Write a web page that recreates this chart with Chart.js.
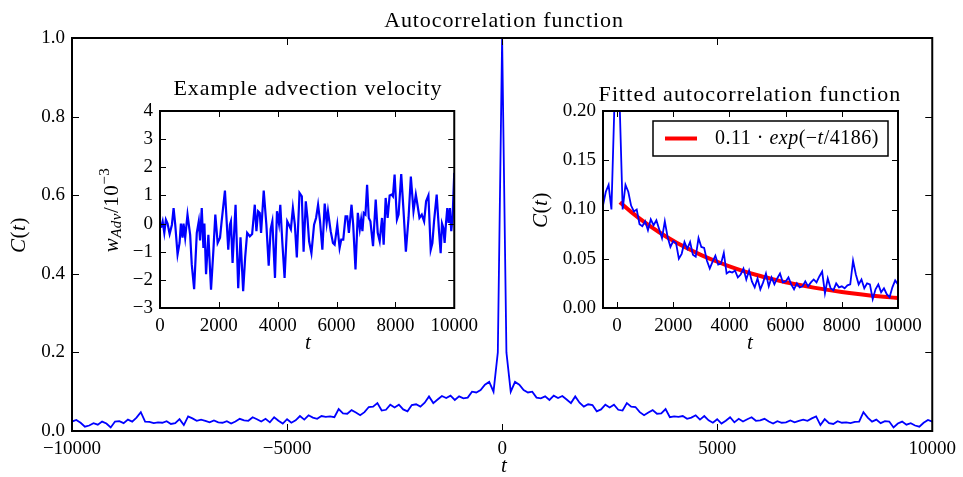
<!DOCTYPE html>
<html>
<head>
<meta charset="utf-8">
<script src="https://cdn.jsdelivr.net/npm/chart.js@4.4.0/dist/chart.umd.min.js"></script>
<style>
body { margin: 0; background: #fff; }
#wrap { position: relative; width: 963px; height: 477px; }
canvas { position: absolute; }
</style>
</head>
<body>
<div id="wrap">
<canvas id="mainChart" width="963" height="477" style="left:0px;top:0px"></canvas>
<canvas id="velChart" width="390" height="290" style="left:95px;top:70px"></canvas>
<canvas id="fitChart" width="420" height="290" style="left:520px;top:70px"></canvas>
</div>
<script>
// autocorrelation C(t) for t = 0, 100, 200 ... 10000 (curve is symmetric)
const lagStep = 100;
const acValues = [
  1.0, 0.20, 0.10, 0.125, 0.118, 0.104, 0.098, 0.100, 0.085, 0.083,
  0.088, 0.079, 0.090, 0.084, 0.089, 0.080, 0.071, 0.088, 0.072, 0.062,
  0.068, 0.066, 0.050, 0.055, 0.067, 0.060, 0.067, 0.054, 0.052, 0.071,
  0.062, 0.061, 0.048, 0.040, 0.047, 0.053, 0.044, 0.045, 0.056, 0.035,
  0.037, 0.036, 0.038, 0.031, 0.034, 0.040, 0.029, 0.038, 0.027, 0.021,
  0.030, 0.019, 0.026, 0.035, 0.022, 0.031, 0.024, 0.030, 0.035, 0.026,
  0.027, 0.031, 0.024, 0.019, 0.025, 0.021, 0.022, 0.027, 0.022, 0.026,
  0.029, 0.026, 0.032, 0.037, 0.015, 0.030, 0.020, 0.018, 0.025, 0.021,
  0.022, 0.020, 0.023, 0.024, 0.048, 0.034, 0.024, 0.029, 0.020, 0.025,
  0.024, 0.009, 0.019, 0.024, 0.016, 0.020, 0.014, 0.011, 0.021, 0.028,
  0.024
];

// example advection velocity (units of 1e-3)
const velT = [
  34, 90, 146, 200, 257, 327, 405, 462, 518, 597, 665, 710, 766, 800, 856, 935,
  1025, 1080, 1160, 1250, 1318, 1362, 1419, 1475, 1509, 1565, 1644, 1734, 1813, 1880, 1959,
  2040, 2095, 2207, 2320, 2376, 2410, 2466, 2568, 2658, 2736, 2826, 2894, 2962,
  3052, 3131, 3221, 3277, 3334, 3390, 3435, 3525, 3615, 3694, 3761, 3818, 3908, 3975,
  4043, 4088, 4155, 4234, 4324, 4380, 4448, 4516, 4583, 4650, 4741, 4820, 4880, 4955,
  5011, 5067, 5146, 5236, 5304, 5372, 5439, 5518, 5597, 5664, 5709, 5800, 5878, 5935,
  6025, 6104, 6160, 6228, 6306, 6363, 6419, 6509, 6565, 6644, 6723, 6790, 6835, 6880, 6925, 6982,
  7038, 7095, 7151, 7240, 7331, 7399, 7466, 7545, 7601, 7669, 7736, 7804, 7871, 7916, 7973,
  8052, 8108, 8198, 8277, 8356, 8446, 8525, 8615, 8694, 8750, 8818, 8897, 8976,
  9043, 9122, 9200, 9257, 9313, 9403, 9482, 9538, 9583, 9628, 9673, 9718, 9763, 9808, 9853, 9898, 9943, 10000
];
const velW = [
  -0.15, 0.08, -0.33, 0.14, 0.0, -0.37, -0.04, 0.55, -0.04, -1.1, -0.69, 0.0, -0.5, 0.0, -0.5, 0.32,
  -0.4, -1.46, -2.33, -0.33, 0.08, -0.6, 0.55, -0.87, 0.0, -1.8, -0.4, -2.35, -0.98, 0.32, -0.69,
  -0.5, 0.08, 1.17, -0.93, -0.04, 0.08, -1.4, 0.67, -2.3, -0.49, -2.4, -1.2, -0.33,
  -0.45, -0.37, 0.67, -0.27, 0.44, 0.38, -0.33, 1.17, -0.04, -1.5, -0.2, 0.08, -1.93, 0.44,
  0.0, 0.67, -0.63, -1.93, 0.08, -0.04, -0.2, 0.55, -0.04, -1.2, 1.09, 0.97, -1.0, 0.79,
  0.2, -0.63, -1.05, -0.04, 0.2, 0.67, 0.08, -0.93, 0.71, 0.02, 0.44, -0.27, -0.69, -0.75,
  -0.04, -0.87, -0.57, -0.57, 0.26, 0.26, -0.33, 0.67, -0.04, -1.63, 0.38, -0.2, 0.14, -0.27, 0.38, 0.32,
  1.38, 0.2, 0.08, -0.8, 0.85, -0.33, -0.63, 0.2, -0.75, 0.91, 0.2, 1.0, 1.03, 0.97, 1.74,
  0.14, 0.32, 1.76, 0.44, -1.0, 0.2, 1.67, 0.44, 1.03, 0.67, 0.2, 0.32, 0.08,
  0.79, 1.0, -0.93, -0.69, 0.08, 1.03, -0.27, -1.05, 0.0, -0.15, -0.69, 0.0, 0.55, 0.02, 0.55, -0.27, 0.2, 1.8
];

// fitted curve
const fitLabel = "0.11 \u00b7 exp(\u2212t/4186)";
const fitT = [100, 500, 1000, 1500, 2000, 2500, 3000, 3500, 4000, 4500, 5000,
  5500, 6000, 6500, 7000, 7500, 8000, 8500, 9000, 9500, 10000];
const fitC = [0.1074, 0.0976, 0.0866, 0.0769, 0.0682, 0.0606, 0.0537, 0.0477, 0.0423, 0.0375, 0.0333,
  0.0296, 0.0262, 0.0233, 0.0207, 0.0184, 0.0163, 0.0144, 0.0128, 0.0114, 0.0101];

const mainXTicks = [-10000, -5000, 0, 5000, 10000];
const mainYTicks = [0, 0.2, 0.4, 0.6, 0.8, 1.0];
const velXTicks = [0, 2000, 4000, 6000, 8000, 10000];
const velYTicks = [-3, -2, -1, 0, 1, 2, 3, 4];
const fitXTicks = [0, 2000, 4000, 6000, 8000, 10000];
const fitYTicks = [0, 0.05, 0.10, 0.15, 0.20];

const FONT = "'Liberation Serif', 'DejaVu Serif', serif";
Chart.defaults.font.family = FONT;
Chart.defaults.font.size = 19;
Chart.defaults.color = "#000";
Chart.defaults.animation = false;

const minus = s => String(s).replace("-", "\u2212");

let acPoints = [];
for (let i = acValues.length - 1; i > 0; i--) acPoints.push({ x: -i * lagStep, y: acValues[i] });
acValues.forEach((v, i) => acPoints.push({ x: i * lagStep, y: v }));
const velPoints = velT.map((t, i) => ({ x: t, y: velW[i] }));
const fitPoints = fitT.map((t, i) => ({ x: t, y: fitC[i] }));

function drawRich(ctx, parts, x, y, size, align, angle, ls) {
  ctx.save();
  ctx.translate(x, y);
  if (angle) ctx.rotate(angle);
  ctx.textBaseline = "middle";
  ctx.textAlign = "left";
  ctx.fillStyle = "#000";
  if (ls) ctx.letterSpacing = ls + "px";
  const fontFor = p => (p.i ? "italic " : "") + Math.round(size * (p.s || 1)) + "px " + FONT;
  let w = 0;
  parts.forEach(p => { ctx.font = fontFor(p); w += ctx.measureText(p.t).width; });
  let cx = align === "center" ? -w / 2 : 0;
  parts.forEach(p => {
    ctx.font = fontFor(p);
    ctx.fillText(p.t, cx, p.dy || 0);
    cx += ctx.measureText(p.t).width;
  });
  ctx.restore();
}

// frame, inward ticks on all sides, titles and labels
function framePlugin(cfg) {
  return {
    id: "frame" + cfg.name,
    afterDraw(chart) {
      const ctx = chart.ctx, a = chart.chartArea;
      const x = chart.scales.x, y = chart.scales.y;
      const tl = cfg.tick;
      ctx.save();
      ctx.strokeStyle = "#000";
      ctx.lineWidth = 1;
      ctx.beginPath();
      cfg.xTicks.forEach(v => {
        const px = Math.round(x.getPixelForValue(v)) + 0.5;
        if (px <= a.left + 1 || px >= a.right - 1) return;
        ctx.moveTo(px, a.bottom); ctx.lineTo(px, a.bottom - tl);
        ctx.moveTo(px, a.top); ctx.lineTo(px, a.top + tl);
      });
      cfg.yTicks.forEach(v => {
        const py = Math.round(y.getPixelForValue(v)) + 0.5;
        if (py <= a.top + 1 || py >= a.bottom - 1) return;
        ctx.moveTo(a.left, py); ctx.lineTo(a.left + tl, py);
        ctx.moveTo(a.right, py); ctx.lineTo(a.right - tl, py);
      });
      ctx.stroke();
      ctx.lineWidth = 2;
      ctx.strokeRect(a.left, a.top, a.right - a.left, a.bottom - a.top);
      cfg.texts.forEach(t => drawRich(ctx, t.parts, t.x - cfg.box.left, t.y - cfg.box.top,
        t.size, t.align || "center", t.angle, t.ls));
      if (cfg.legend) {
        const L = cfg.legend, ox = cfg.box.left, oy = cfg.box.top;
        ctx.fillStyle = "#fff";
        ctx.fillRect(L.x - ox, L.y - oy, L.w, L.h);
        ctx.lineWidth = 1.5;
        ctx.strokeRect(L.x - ox, L.y - oy, L.w, L.h);
        ctx.strokeStyle = "#ff0000";
        ctx.lineWidth = 4;
        ctx.beginPath();
        ctx.moveTo(L.x - ox + 12, L.y - oy + L.h / 2);
        ctx.lineTo(L.x - ox + 44, L.y - oy + L.h / 2);
        ctx.stroke();
        drawRich(ctx, L.parts, L.x - ox + 62, L.y - oy + L.h / 2, 20, "left", 0, 0.5);
      }
      ctx.restore();
    }
  };
}

function makeChart(id, cfg) {
  const box = cfg.box, plot = cfg.plot;
  return new Chart(id, {
    type: "line",
    data: { datasets: cfg.datasets },
    options: {
      responsive: false,
      animation: false,
      layout: { padding: { top: plot.top - box.top, right: box.left + box.width - plot.right, left: 0, bottom: 0 } },
      plugins: { legend: { display: false }, tooltip: { enabled: false } },
      elements: { point: { radius: 0 } },
      scales: {
        x: {
          type: "linear", min: cfg.xr[0], max: cfg.xr[1],
          grid: { display: false, drawTicks: false }, border: { display: false },
          afterBuildTicks: s => { s.ticks = cfg.xTicks.map(v => ({ value: v })); },
          afterFit: s => { s.height = box.top + box.height - plot.bottom; },
          ticks: { padding: 7, maxRotation: 0, autoSkip: false, callback: v => minus(cfg.xFmt(v)) }
        },
        y: {
          type: "linear", min: cfg.yr[0], max: cfg.yr[1],
          grid: { display: false, drawTicks: false }, border: { display: false },
          afterBuildTicks: s => { s.ticks = cfg.yTicks.map(v => ({ value: v })); },
          afterFit: s => { s.width = plot.left - box.left; },
          ticks: { padding: 7, autoSkip: false, callback: v => minus(cfg.yFmt(v)) }
        }
      }
    },
    plugins: [framePlugin(cfg)]
  });
}

const C_t = [{ t: "C", i: true }, { t: "(" }, { t: "t", i: true }, { t: ")" }];

makeChart("mainChart", {
  name: "main",
  box: { left: 0, top: 0, width: 963, height: 477 },
  plot: { left: 72, top: 38, right: 937, bottom: 431 },
  xr: [-10000, 10000], yr: [0, 1],
  xTicks: mainXTicks, yTicks: mainYTicks,
  xFmt: v => String(v), yFmt: v => v.toFixed(1),
  tick: 7,
  datasets: [{ data: acPoints, borderColor: "#0000ff", borderWidth: 1.8, tension: 0 }],
  texts: [
    { parts: [{ t: "Autocorrelation function" }], x: 504, y: 21, size: 22, ls: 0.9 },
    { parts: [{ t: "t", i: true }], x: 504, y: 466, size: 21 },
    { parts: C_t, x: 19, y: 235, size: 21, angle: -Math.PI / 2, ls: 0.5 }
  ]
});

makeChart("velChart", {
  name: "vel",
  box: { left: 95, top: 70, width: 390, height: 290 },
  plot: { left: 160, top: 111, right: 456, bottom: 308 },
  xr: [0, 10000], yr: [-3, 4],
  xTicks: velXTicks, yTicks: velYTicks,
  xFmt: v => String(v), yFmt: v => String(v),
  tick: 6,
  datasets: [{ data: velPoints, borderColor: "#0000ff", borderWidth: 2.2, tension: 0 }],
  texts: [
    { parts: [{ t: "Example advection velocity" }], x: 308, y: 89, size: 22, ls: 0.9 },
    { parts: [{ t: "t", i: true }], x: 308, y: 343, size: 21 },
    { parts: [{ t: "w", i: true }, { t: "Adv", i: true, s: 0.7, dy: 5 }, { t: "/10" }, { t: "\u22123", s: 0.7, dy: -7 }],
      x: 112, y: 210, size: 21, angle: -Math.PI / 2, ls: 0.5 }
  ]
});

makeChart("fitChart", {
  name: "fit",
  box: { left: 520, top: 70, width: 420, height: 290 },
  plot: { left: 603, top: 111, right: 898, bottom: 308 },
  xr: [-500, 10000], yr: [0, 0.2],
  xTicks: fitXTicks, yTicks: fitYTicks,
  xFmt: v => String(v), yFmt: v => v.toFixed(2),
  tick: 6,
  datasets: [
    { data: acPoints, borderColor: "#0000ff", borderWidth: 1.8, tension: 0 },
    { label: fitLabel, data: fitPoints, borderColor: "#ff0000", borderWidth: 4, cubicInterpolationMode: "monotone" }
  ],
  texts: [
    { parts: [{ t: "Fitted autocorrelation function" }], x: 750, y: 95, size: 22, ls: 1.1 },
    { parts: [{ t: "t", i: true }], x: 750, y: 343, size: 21 },
    { parts: C_t, x: 541, y: 210, size: 21, angle: -Math.PI / 2, ls: 0.5 }
  ],
  legend: {
    x: 653, y: 121, w: 235, h: 35,
    parts: [{ t: "0.11 \u00b7 " }, { t: "exp", i: true }, { t: "(\u2212" }, { t: "t", i: true }, { t: "/4186)" }]
  }
});
</script>
</body>
</html>
